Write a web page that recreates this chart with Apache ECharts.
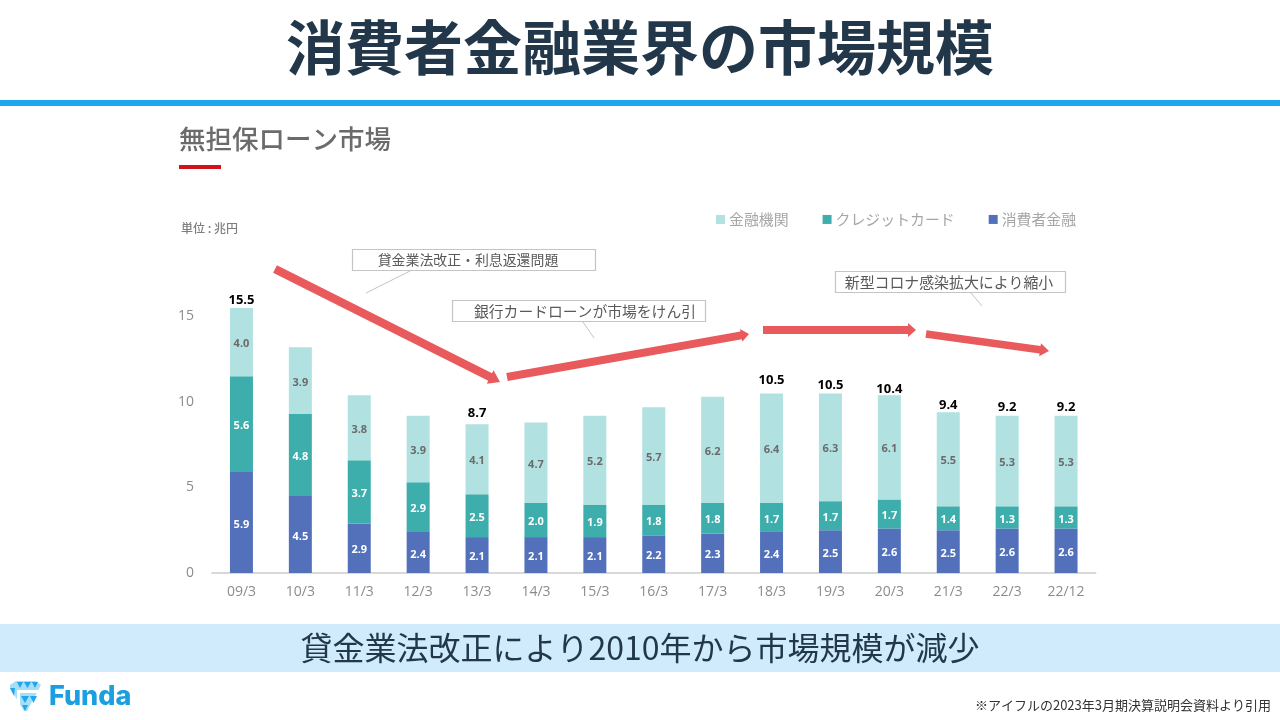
<!DOCTYPE html>
<html>
<head>
<meta charset="utf-8">
<title>消費者金融業界の市場規模</title>
<script src="https://cdn.jsdelivr.net/npm/echarts@6/dist/echarts.min.js"></script>
<style>
html, body { margin: 0; padding: 0; background: #fff; }
#main { width: 1280px; height: 720px; }
</style>
</head>
<body>
<div id="main"></div>
<script>
var categories = ['09/3', '10/3', '11/3', '12/3', '13/3', '14/3', '15/3', '16/3', '17/3', '18/3', '19/3', '20/3', '21/3', '22/3', '22/12'];
var shohisha = [5.9, 4.5, 2.9, 2.4, 2.1, 2.1, 2.1, 2.2, 2.3, 2.4, 2.5, 2.6, 2.5, 2.6, 2.6];
var credit = [5.6, 4.8, 3.7, 2.9, 2.5, 2.0, 1.9, 1.8, 1.8, 1.7, 1.7, 1.7, 1.4, 1.3, 1.3];
var kinyu = [4.0, 3.9, 3.8, 3.9, 4.1, 4.7, 5.2, 5.7, 6.2, 6.4, 6.3, 6.1, 5.5, 5.3, 5.3];
var totals = [15.5, null, null, null, 8.7, null, null, null, null, 10.5, 10.5, 10.4, 9.4, 9.2, 9.2];

var FONT = '"Noto Sans CJK JP", sans-serif';
var NUM_FONT = '"Open Sans", "Noto Sans CJK JP", sans-serif';
var RED = '#e95a5c';

var chart = echarts.init(document.getElementById('main'));

// 赤い矢印
function arrow(x1, y1, x2, y2, w, headW, headL) {
  var len = Math.sqrt((x2 - x1) * (x2 - x1) + (y2 - y1) * (y2 - y1));
  var ux = (x2 - x1) / len, uy = (y2 - y1) / len;
  var nx = -uy, ny = ux;
  var bx = x2 - ux * headL, by = y2 - uy * headL;
  return {
    type: 'polygon',
    z: 20,
    shape: { points: [
      [x1 + nx * w / 2, y1 + ny * w / 2],
      [bx + nx * w / 2, by + ny * w / 2],
      [bx + nx * headW / 2, by + ny * headW / 2],
      [x2, y2],
      [bx - nx * headW / 2, by - ny * headW / 2],
      [bx - nx * w / 2, by - ny * w / 2],
      [x1 - nx * w / 2, y1 - ny * w / 2]
    ] },
    style: { fill: RED }
  };
}

// 吹き出し
function callout(x, y, w, h, text, size, textX, lx1, ly1, lx2, ly2) {
  return [
    { type: 'rect', z: 10, shape: { x: x, y: y, width: w, height: h },
      style: { fill: '#fff', stroke: '#c4c4c4', lineWidth: 1.2 } },
    { type: 'text', z: 11, x: textX, y: y + h / 2,
      style: { text: text, font: size + 'px ' + FONT, fill: '#595959', align: 'center', verticalAlign: 'middle' } },
    { type: 'line', z: 10, shape: { x1: lx1, y1: ly1, x2: lx2, y2: ly2 },
      style: { stroke: '#c4c4c4', lineWidth: 1 } }
  ];
}

function tri(points, fill) {
  return { type: 'polygon', z: 6, shape: { points: points }, style: { fill: fill } };
}

var graphics = [
  { type: 'rect', shape: { x: 0, y: 100, width: 1280, height: 6 }, style: { fill: '#1fa7ee' } },
  { type: 'rect', shape: { x: 179, y: 165, width: 42, height: 4 }, style: { fill: '#d0121b' } },
  { type: 'rect', shape: { x: 0, y: 624, width: 1280, height: 48 }, style: { fill: '#d0ebfb' } },
  { type: 'text', z: 5, x: 640, y: 648,
    style: { text: '貸金業法改正により2010年から市場規模が減少', font: '32px ' + FONT, fill: '#22384a', align: 'center', verticalAlign: 'middle' } },
  { type: 'text', x: 1271, y: 705,
    style: { text: '※アイフルの2023年3月期決算説明会資料より引用', font: '13px ' + FONT, fill: '#333', align: 'right', verticalAlign: 'middle' } },
  { type: 'text', x: 181, y: 228,
    style: { text: '単位 : 兆円', font: '500 12px ' + FONT, fill: '#7f7f7f', align: 'left', verticalAlign: 'middle' } },
  // ロゴ
  tri([[16, 681], [36, 681], [41, 685], [27, 711], [24, 711], [10, 688], [10, 685]], '#a6def7'),
  tri([[17, 682], [23, 682], [20, 688]], '#1fa7ee'),
  tri([[24, 682], [31, 682], [27.5, 688]], '#1fa7ee'),
  tri([[32, 682], [38, 682], [35, 688]], '#1fa7ee'),
  tri([[10, 688], [15, 688], [14, 696]], '#1fa7ee'),
  tri([[21, 696], [29, 696], [25, 703]], '#1fa7ee'),
  tri([[30, 696], [37, 696], [33.5, 703]], '#1fa7ee'),
  tri([[22, 705], [28, 705], [25, 711]], '#1fa7ee'),
  { type: 'rect', z: 7, shape: { x: 18, y: 690, width: 23, height: 3 }, style: { fill: '#fff' } },
  { type: 'rect', z: 7, shape: { x: 17, y: 690, width: 3, height: 14 }, style: { fill: '#fff' } },
  { type: 'text', z: 7, x: 49, y: 697,
    style: { text: 'Funda', font: '800 27px Inter, sans-serif', fill: '#1a9fe0', align: 'left', verticalAlign: 'middle' } },
  arrow(275, 269, 500, 382, 8.5, 15, 11),
  arrow(507, 377, 749, 334, 8, 13, 8),
  arrow(763, 330, 916, 330, 8, 14, 8),
  arrow(926, 334, 1049, 351, 7.5, 13, 9)
]
  .concat(callout(352.5, 249.5, 243, 21, '貸金業法改正・利息返還問題', 13.9, 468, 410, 271, 366, 293))
  .concat(callout(452.5, 300.5, 253, 21, '銀行カードローンが市場をけん引', 14.8, 585, 583, 322, 594, 338))
  .concat(callout(835.5, 271.5, 230, 21, '新型コロナ感染拡大により縮小', 14.9, 949, 971, 293, 982, 306));

function segLabel(color) {
  return {
    show: true,
    position: 'inside',
    offset: [0, 2],
    color: color,
    fontFamily: NUM_FONT,
    fontSize: 11,
    fontWeight: 'bold',
    formatter: function (p) { return p.value.toFixed(1); }
  };
}

// 合計ラベルの高さの微調整（元の図に合わせる）
var totalNudge = { 4: -3, 9: -5, 11: 2, 12: 1, 13: 0, 14: 0 };
var totalData = totals.map(function (v, i) {
  return { value: v, label: { offset: [0, totalNudge[i] || 0] } };
});

var option = {
  backgroundColor: '#fff',
  animation: false,
  title: [
    {
      text: '消費者金融業界の市場規模',
      left: 'center',
      top: 13,
      textStyle: { fontFamily: FONT, fontSize: 59, fontWeight: 'bold', color: '#22384a' }
    },
    {
      text: '無担保ローン市場',
      left: 174,
      top: 121,
      textStyle: { fontFamily: FONT, fontSize: 26.5, fontWeight: 500, color: '#6b6b6b' }
    }
  ],
  legend: {
    data: ['金融機関', 'クレジットカード', '消費者金融'],
    left: 711,
    top: 207,
    icon: 'rect',
    itemWidth: 9,
    itemHeight: 9,
    itemGap: 34,
    textStyle: { fontFamily: FONT, fontSize: 14.9, color: '#a6a6a6', padding: [0, 0, 0, -1] }
  },
  grid: { left: 212, right: 184.5, top: 231, bottom: 147 },
  xAxis: {
    type: 'category',
    data: categories,
    axisLine: { lineStyle: { color: '#d9d9d9', width: 2 } },
    axisTick: { show: false },
    axisLabel: { color: '#8c8c8c', fontFamily: NUM_FONT, fontSize: 14, margin: 12 }
  },
  yAxis: {
    type: 'value',
    min: 0,
    max: 20,
    interval: 5,
    axisLine: { show: false },
    axisTick: { show: false },
    splitLine: { show: false },
    axisLabel: { color: '#8c8c8c', fontFamily: NUM_FONT, fontSize: 14, margin: 18, showMaxLabel: false, padding: [2, 0, 0, 0] }
  },
  series: [
    { name: '消費者金融', type: 'bar', stack: 'total', barWidth: 23, data: shohisha,
      itemStyle: { color: '#5371bb' }, label: segLabel('#fff') },
    { name: 'クレジットカード', type: 'bar', stack: 'total', barWidth: 23, data: credit,
      itemStyle: { color: '#3daeac' }, label: segLabel('#fff') },
    { name: '金融機関', type: 'bar', stack: 'total', barWidth: 23, data: kinyu,
      itemStyle: { color: '#b1e1e0' }, label: segLabel('#6b6b6b') },
    // 合計ラベル用（線は描かない）
    { name: '合計', type: 'line', data: totalData, symbol: 'circle', symbolSize: 1,
      itemStyle: { color: 'rgba(0,0,0,0)' },
      lineStyle: { opacity: 0 },
      label: { show: true, position: 'top', distance: 1, color: '#000', fontFamily: NUM_FONT, fontSize: 13, fontWeight: 'bold',
        formatter: function (p) { return p.value == null ? '' : p.value.toFixed(1); } } }
  ],
  graphic: graphics
};
chart.setOption(option);
</script>
</body>
</html>
